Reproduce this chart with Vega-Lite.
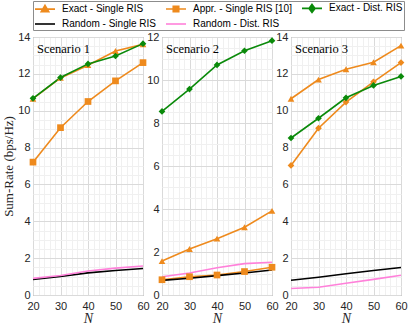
{
  "$schema": "https://vega.github.io/schema/vega-lite/v6.json",
  "padding": {"left": 2, "top": 0, "right": 2, "bottom": 1},
  "bounds": "flush",
  "config": {
    "view": {"stroke": "#808080", "strokeWidth": 1},
    "axis": {"domain": false, "ticks": false, "labelFlush": false, "labelFont": "Liberation Sans", "labelFontSize": 11, "labelColor": "#262626", "labelPadding": 3, "titleFont": "Liberation Serif", "titleFontWeight": "normal", "titleColor": "#262626"},
    "axisX": {"labelPadding": 5},
    "title": {"font": "Liberation Serif", "fontSize": 12.5, "fontWeight": "normal", "color": "#000000"}
  },
  "datasets": {
    "rates": [
      {"scenario": "Scenario 1", "series": "Exact - Single RIS", "N": 20, "rate": 10.65},
      {"scenario": "Scenario 1", "series": "Exact - Single RIS", "N": 30, "rate": 11.78},
      {"scenario": "Scenario 1", "series": "Exact - Single RIS", "N": 40, "rate": 12.47},
      {"scenario": "Scenario 1", "series": "Exact - Single RIS", "N": 50, "rate": 13.24},
      {"scenario": "Scenario 1", "series": "Exact - Single RIS", "N": 60, "rate": 13.6},
      {"scenario": "Scenario 1", "series": "Appr. - Single RIS [10]", "N": 20, "rate": 7.21},
      {"scenario": "Scenario 1", "series": "Appr. - Single RIS [10]", "N": 30, "rate": 9.08},
      {"scenario": "Scenario 1", "series": "Appr. - Single RIS [10]", "N": 40, "rate": 10.5},
      {"scenario": "Scenario 1", "series": "Appr. - Single RIS [10]", "N": 50, "rate": 11.62},
      {"scenario": "Scenario 1", "series": "Appr. - Single RIS [10]", "N": 60, "rate": 12.61},
      {"scenario": "Scenario 1", "series": "Exact - Dist. RIS", "N": 20, "rate": 10.67},
      {"scenario": "Scenario 1", "series": "Exact - Dist. RIS", "N": 30, "rate": 11.8},
      {"scenario": "Scenario 1", "series": "Exact - Dist. RIS", "N": 40, "rate": 12.54},
      {"scenario": "Scenario 1", "series": "Exact - Dist. RIS", "N": 50, "rate": 12.97},
      {"scenario": "Scenario 1", "series": "Exact - Dist. RIS", "N": 60, "rate": 13.64},
      {"scenario": "Scenario 1", "series": "Random - Single RIS", "N": 20, "rate": 0.85},
      {"scenario": "Scenario 1", "series": "Random - Single RIS", "N": 30, "rate": 1.0},
      {"scenario": "Scenario 1", "series": "Random - Single RIS", "N": 40, "rate": 1.2},
      {"scenario": "Scenario 1", "series": "Random - Single RIS", "N": 50, "rate": 1.33},
      {"scenario": "Scenario 1", "series": "Random - Single RIS", "N": 60, "rate": 1.44},
      {"scenario": "Scenario 1", "series": "Random - Dist. RIS", "N": 20, "rate": 0.9},
      {"scenario": "Scenario 1", "series": "Random - Dist. RIS", "N": 30, "rate": 1.06},
      {"scenario": "Scenario 1", "series": "Random - Dist. RIS", "N": 40, "rate": 1.3},
      {"scenario": "Scenario 1", "series": "Random - Dist. RIS", "N": 50, "rate": 1.46},
      {"scenario": "Scenario 1", "series": "Random - Dist. RIS", "N": 60, "rate": 1.57},
      {"scenario": "Scenario 2", "series": "Exact - Single RIS", "N": 20, "rate": 1.58},
      {"scenario": "Scenario 2", "series": "Exact - Single RIS", "N": 30, "rate": 2.14},
      {"scenario": "Scenario 2", "series": "Exact - Single RIS", "N": 40, "rate": 2.62},
      {"scenario": "Scenario 2", "series": "Exact - Single RIS", "N": 50, "rate": 3.15},
      {"scenario": "Scenario 2", "series": "Exact - Single RIS", "N": 60, "rate": 3.91},
      {"scenario": "Scenario 2", "series": "Appr. - Single RIS [10]", "N": 20, "rate": 0.71},
      {"scenario": "Scenario 2", "series": "Appr. - Single RIS [10]", "N": 30, "rate": 0.85},
      {"scenario": "Scenario 2", "series": "Appr. - Single RIS [10]", "N": 40, "rate": 0.93},
      {"scenario": "Scenario 2", "series": "Appr. - Single RIS [10]", "N": 50, "rate": 1.09},
      {"scenario": "Scenario 2", "series": "Appr. - Single RIS [10]", "N": 60, "rate": 1.29},
      {"scenario": "Scenario 2", "series": "Exact - Dist. RIS", "N": 20, "rate": 8.54},
      {"scenario": "Scenario 2", "series": "Exact - Dist. RIS", "N": 30, "rate": 9.58},
      {"scenario": "Scenario 2", "series": "Exact - Dist. RIS", "N": 40, "rate": 10.7},
      {"scenario": "Scenario 2", "series": "Exact - Dist. RIS", "N": 50, "rate": 11.36},
      {"scenario": "Scenario 2", "series": "Exact - Dist. RIS", "N": 60, "rate": 11.83},
      {"scenario": "Scenario 2", "series": "Random - Single RIS", "N": 20, "rate": 0.68},
      {"scenario": "Scenario 2", "series": "Random - Single RIS", "N": 30, "rate": 0.78},
      {"scenario": "Scenario 2", "series": "Random - Single RIS", "N": 40, "rate": 0.9},
      {"scenario": "Scenario 2", "series": "Random - Single RIS", "N": 50, "rate": 1.02},
      {"scenario": "Scenario 2", "series": "Random - Single RIS", "N": 60, "rate": 1.16},
      {"scenario": "Scenario 2", "series": "Random - Dist. RIS", "N": 20, "rate": 0.85},
      {"scenario": "Scenario 2", "series": "Random - Dist. RIS", "N": 30, "rate": 1.02},
      {"scenario": "Scenario 2", "series": "Random - Dist. RIS", "N": 40, "rate": 1.27},
      {"scenario": "Scenario 2", "series": "Random - Dist. RIS", "N": 50, "rate": 1.46},
      {"scenario": "Scenario 2", "series": "Random - Dist. RIS", "N": 60, "rate": 1.52},
      {"scenario": "Scenario 3", "series": "Exact - Single RIS", "N": 20, "rate": 10.65},
      {"scenario": "Scenario 3", "series": "Exact - Single RIS", "N": 30, "rate": 11.69},
      {"scenario": "Scenario 3", "series": "Exact - Single RIS", "N": 40, "rate": 12.25},
      {"scenario": "Scenario 3", "series": "Exact - Single RIS", "N": 50, "rate": 12.63},
      {"scenario": "Scenario 3", "series": "Exact - Single RIS", "N": 60, "rate": 13.53},
      {"scenario": "Scenario 3", "series": "Appr. - Single RIS [10]", "N": 20, "rate": 7.03},
      {"scenario": "Scenario 3", "series": "Appr. - Single RIS [10]", "N": 30, "rate": 9.05},
      {"scenario": "Scenario 3", "series": "Appr. - Single RIS [10]", "N": 40, "rate": 10.47},
      {"scenario": "Scenario 3", "series": "Appr. - Single RIS [10]", "N": 50, "rate": 11.57},
      {"scenario": "Scenario 3", "series": "Appr. - Single RIS [10]", "N": 60, "rate": 12.61},
      {"scenario": "Scenario 3", "series": "Exact - Dist. RIS", "N": 20, "rate": 8.52},
      {"scenario": "Scenario 3", "series": "Exact - Dist. RIS", "N": 30, "rate": 9.59},
      {"scenario": "Scenario 3", "series": "Exact - Dist. RIS", "N": 40, "rate": 10.7},
      {"scenario": "Scenario 3", "series": "Exact - Dist. RIS", "N": 50, "rate": 11.37},
      {"scenario": "Scenario 3", "series": "Exact - Dist. RIS", "N": 60, "rate": 11.86},
      {"scenario": "Scenario 3", "series": "Random - Single RIS", "N": 20, "rate": 0.8},
      {"scenario": "Scenario 3", "series": "Random - Single RIS", "N": 30, "rate": 0.96},
      {"scenario": "Scenario 3", "series": "Random - Single RIS", "N": 40, "rate": 1.15},
      {"scenario": "Scenario 3", "series": "Random - Single RIS", "N": 50, "rate": 1.33},
      {"scenario": "Scenario 3", "series": "Random - Single RIS", "N": 60, "rate": 1.49},
      {"scenario": "Scenario 3", "series": "Random - Dist. RIS", "N": 20, "rate": 0.35},
      {"scenario": "Scenario 3", "series": "Random - Dist. RIS", "N": 30, "rate": 0.42},
      {"scenario": "Scenario 3", "series": "Random - Dist. RIS", "N": 40, "rate": 0.64},
      {"scenario": "Scenario 3", "series": "Random - Dist. RIS", "N": 50, "rate": 0.85},
      {"scenario": "Scenario 3", "series": "Random - Dist. RIS", "N": 60, "rate": 1.07}
    ]
  },
  "data": {"name": "rates"},
  "spacing": 19,
  "hconcat": [
    {
      "width": 110, "height": 258,
      "title": {"text": "Scenario 1", "anchor": "start", "frame": "group", "offset": -24, "dx": 4},
      "transform": [{"filter": "datum.scenario === 'Scenario 1'"}],
      "encoding": {
        "x": {"field": "N", "type": "quantitative", "scale": {"domain": [20, 60], "nice": false},
          "axis": {"values": [20,22,24,26,28,30,32,34,36,38,40,42,44,46,48,50,52,54,56,58,60], "labelExpr": "datum.value % 10 === 0 ? datum.label : ''", "gridColor": {"condition": {"test": "datum.value % 10 === 0", "value": "#dadada"}, "value": "#f0f0f0"}, "title": "N", "titleFontStyle": "italic", "titleFontSize": 14, "titlePadding": 0}},
        "y": {"field": "rate", "type": "quantitative", "scale": {"domain": [0, 14], "nice": false},
          "axis": {"values": [0,0.5,1,1.5,2,2.5,3,3.5,4,4.5,5,5.5,6,6.5,7,7.5,8,8.5,9,9.5,10,10.5,11,11.5,12,12.5,13,13.5,14], "labelExpr": "datum.value % 2 === 0 ? format(datum.value, 'd') : ''", "gridColor": {"condition": {"test": "datum.value % 2 === 0", "value": "#dadada"}, "value": "#f0f0f0"}, "title": "Sum-Rate (bps/Hz)", "titleFontSize": 13, "titlePadding": 2}},
        "color": {"field": "series", "type": "nominal",
          "scale": {"domain": ["Exact - Single RIS", "Appr. - Single RIS [10]", "Exact - Dist. RIS", "Random - Single RIS", "Random - Dist. RIS"], "range": ["#EE8A1D", "#EE8A1D", "#0A8A0A", "#000000", "#FF80DA"]},
          "legend": {"title": null, "orient": "top", "direction": "horizontal", "columns": 3, "offset": 0, "labelFont": "Liberation Sans", "labelFontSize": 10, "labelColor": "#000000", "symbolSize": 100, "symbolOffset": 5, "symbolStrokeWidth": 1.6, "columnPadding": 6, "rowPadding": 2, "labelOffset": 11, "strokeColor": "#8c8c8c", "fillColor": "#ffffff", "padding": 1,
            "encode": {"symbols": {"update": {
              "shape": {"signal": "datum.value === 'Exact - Single RIS' ? 'M-2,0H2M0,-0.75L0.75,0.5L-0.75,0.5Z' : datum.value === 'Appr. - Single RIS [10]' ? 'M-2,0H2M-0.55,-0.55H0.55V0.55H-0.55Z' : datum.value === 'Exact - Dist. RIS' ? 'M-2,0H2M0,-0.8L0.6,0L0,0.8L-0.6,0Z' : 'M-2,0H2'"},
              "stroke": {"scale": "color", "field": "value"},
              "fill": {"scale": "color", "field": "value"},
              "opacity": {"value": 1}}}}}}
      },
      "layer": [
        {"mark": {"type": "line", "strokeWidth": 1.6}},
        {"transform": [{"filter": "indexof(datum.series, 'Random') < 0"}],
         "mark": {"type": "point", "filled": true, "size": 45, "opacity": 1},
         "encoding": {"shape": {"field": "series", "type": "nominal", "legend": null, "scale": {"domain": ["Exact - Single RIS", "Appr. - Single RIS [10]", "Exact - Dist. RIS"], "range": ["triangle-up", "square", "diamond"]}}}}
      ]
    },
    {
      "width": 110, "height": 258,
      "title": {"text": "Scenario 2", "anchor": "start", "frame": "group", "offset": -24, "dx": 4},
      "transform": [{"filter": "datum.scenario === 'Scenario 2'"}],
      "encoding": {
        "x": {"field": "N", "type": "quantitative", "scale": {"domain": [20, 60], "nice": false},
          "axis": {"values": [20,22,24,26,28,30,32,34,36,38,40,42,44,46,48,50,52,54,56,58,60], "labelExpr": "datum.value % 10 === 0 ? datum.label : ''", "gridColor": {"condition": {"test": "datum.value % 10 === 0", "value": "#dadada"}, "value": "#f0f0f0"}, "title": "N", "titleFontStyle": "italic", "titleFontSize": 14, "titlePadding": 0}},
        "y": {"field": "rate", "type": "quantitative", "scale": {"domain": [0, 12], "nice": false},
          "axis": {"values": [0,0.5,1,1.5,2,2.5,3,3.5,4,4.5,5,5.5,6,6.5,7,7.5,8,8.5,9,9.5,10,10.5,11,11.5,12], "labelExpr": "datum.value % 2 === 0 ? format(datum.value, 'd') : ''", "gridColor": {"condition": {"test": "datum.value % 2 === 0", "value": "#dadada"}, "value": "#f0f0f0"}, "title": null}},
        "color": {"field": "series", "type": "nominal"}
      },
      "layer": [
        {"mark": {"type": "line", "strokeWidth": 1.6}},
        {"transform": [{"filter": "indexof(datum.series, 'Random') < 0"}],
         "mark": {"type": "point", "filled": true, "size": 45, "opacity": 1},
         "encoding": {"shape": {"field": "series", "type": "nominal", "legend": null}}}
      ]
    },
    {
      "width": 110, "height": 258,
      "title": {"text": "Scenario 3", "anchor": "start", "frame": "group", "offset": -24, "dx": 4},
      "transform": [{"filter": "datum.scenario === 'Scenario 3'"}],
      "encoding": {
        "x": {"field": "N", "type": "quantitative", "scale": {"domain": [20, 60], "nice": false},
          "axis": {"values": [20,22,24,26,28,30,32,34,36,38,40,42,44,46,48,50,52,54,56,58,60], "labelExpr": "datum.value % 10 === 0 ? datum.label : ''", "gridColor": {"condition": {"test": "datum.value % 10 === 0", "value": "#dadada"}, "value": "#f0f0f0"}, "title": "N", "titleFontStyle": "italic", "titleFontSize": 14, "titlePadding": 0}},
        "y": {"field": "rate", "type": "quantitative", "scale": {"domain": [0, 14], "nice": false},
          "axis": {"values": [0,0.5,1,1.5,2,2.5,3,3.5,4,4.5,5,5.5,6,6.5,7,7.5,8,8.5,9,9.5,10,10.5,11,11.5,12,12.5,13,13.5,14], "labelExpr": "datum.value % 2 === 0 ? format(datum.value, 'd') : ''", "gridColor": {"condition": {"test": "datum.value % 2 === 0", "value": "#dadada"}, "value": "#f0f0f0"}, "title": null}},
        "color": {"field": "series", "type": "nominal"}
      },
      "layer": [
        {"mark": {"type": "line", "strokeWidth": 1.6}},
        {"transform": [{"filter": "indexof(datum.series, 'Random') < 0"}],
         "mark": {"type": "point", "filled": true, "size": 45, "opacity": 1},
         "encoding": {"shape": {"field": "series", "type": "nominal", "legend": null, "condition": {"test": "datum.series === 'Appr. - Single RIS [10]'", "value": "diamond"}}}}
      ]
    }
  ],
  "resolve": {"scale": {"y": "independent"}}
}
